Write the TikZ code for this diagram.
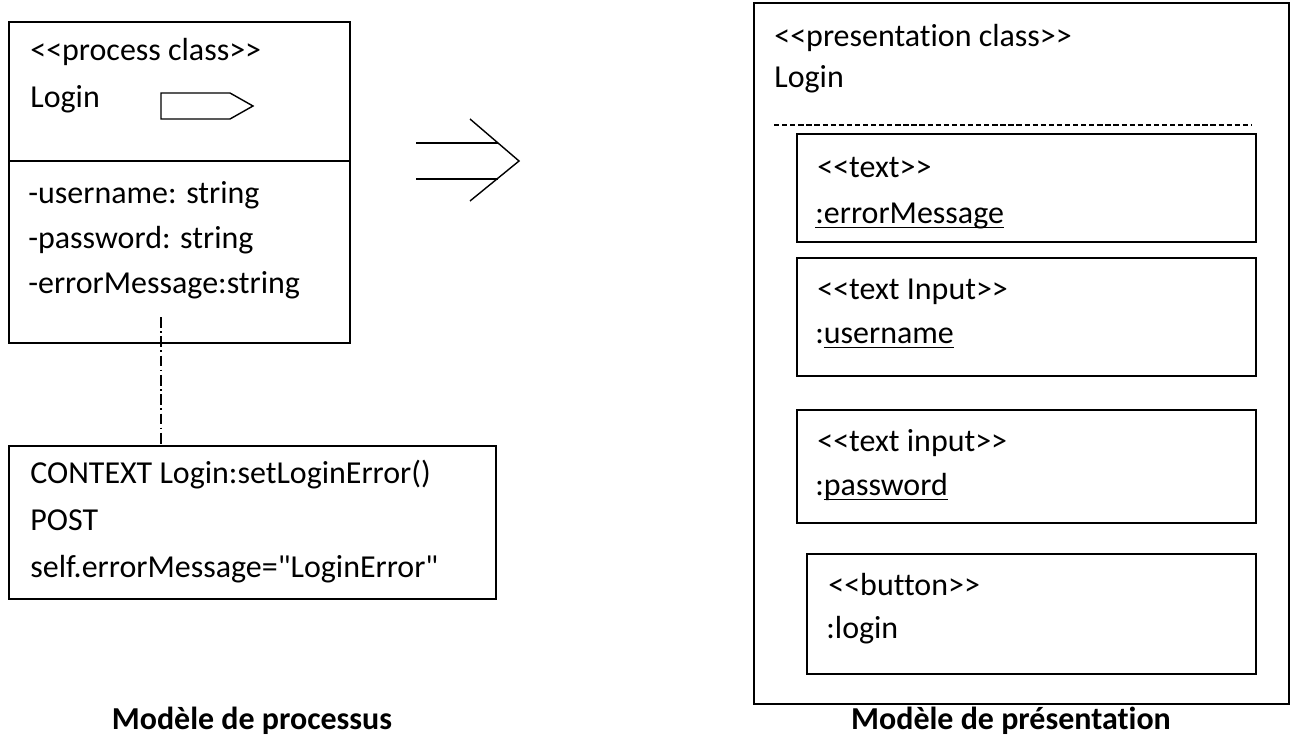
\documentclass[tikz,border=0pt]{standalone}
\usepackage{fontspec}
\setmainfont{Carlito}[Ligatures={NoCommon}]
\usetikzlibrary{positioning, calc}

\newcommand{\ulword}[1]{\setbox0\hbox{#1}\rlap{\rule[-3pt]{\wd0}{0.9pt}}\box0}

\begin{document}
\begin{tikzpicture}[x=0.02cm, y=-0.02cm,
    box/.style={draw, line width=1pt, inner sep=0pt, anchor=north west},
    label/.style={anchor=base west, inner sep=0pt,
                  font=\fontsize{18.2}{22}\selectfont},
    caption/.style={anchor=base, inner sep=0pt,
                    font=\fontsize{18.2}{22}\selectfont\bfseries},
    thin line/.style={line width=0.8pt}
  ]
  \useasboundingbox (0,0) rectangle (1290,740);

  % Process class
  \node[box, minimum width=6.82cm, minimum height=6.42cm] (cls) at (8,21) {};
  \coordinate (clssep) at (8,161);
  \draw[line width=1pt] (clssep) -- (clssep -| cls.east);
  \node[label] (clsstereo) at (30,61) {<{}<process class>{}>};
  \node[label] (clsname) at (30,108) {Login};
  \draw[thin line] (161,93) -- (230,93) -- (253,106) -- (230,119)
    -- (161,119) -- cycle;
  \node[label] (attuser) at (28,203) {-username: string};
  \node[label] (attpass) at (28,248) {-password: string};
  \node[label] (atterr) at (28,293) {-errorMessage:string};

  % Context note
  \node[box, minimum width=9.74cm, minimum height=3.06cm] (ctx) at (8,445) {};
  \node[label] (ctxline1) at (30,483) {CONTEXT Login:setLoginError()};
  \node[label] (ctxline2) at (30,530) {POST};
  \node[label] (ctxline3) at (30,577)
    {self.errorMessage=\textquotedbl LoginError\textquotedbl};
  \coordinate (tie) at (161,317);
  \draw[line width=0.8pt, dash pattern=on 6pt off 2pt on 1pt off 2pt]
    (tie) -- (tie |- ctx.north);

  % Mapping arrow
  \coordinate (arrtip) at (519,161);
  \draw[thin line] (416,143) -- (498,143);
  \draw[thin line] (416,179) -- (498,179);
  \draw[thin line] (470,119) -- (arrtip) -- (470,201);

  % Presentation class
  \node[box, minimum width=10.7cm, minimum height=14.02cm] (pres) at (753,2) {};
  \node[label] (presstereo) at (774,47) {<{}<presentation class>{}>};
  \node[label] (presname) at (774,88) {Login};
  \coordinate (pressepL) at (774,125);
  \coordinate (pressepR) at (1252,125);
  \draw[line width=0.8pt, dash pattern=on 3pt off 1.6pt] (pressepL) -- (pressepR);

  % Widgets
  \node[box, minimum width=9.18cm, minimum height=2.16cm] (errbox) at (796,133) {};
  \node[label] (errstereo) at (817,177) {<{}<text>{}>};
  \node[label] (errname) at (815,223) {\ulword{:errorMessage}};

  \node[box, minimum width=9.18cm, minimum height=2.36cm] (userbox) at (796,257) {};
  \node[label] (userstereo) at (817,299) {<{}<text Input>{}>};
  \node[label] (username) at (815,343) {:\ulword{username}};

  \node[box, minimum width=9.18cm, minimum height=2.26cm] (passbox) at (796,409) {};
  \node[label] (passstereo) at (817,451) {<{}<text input>{}>};
  \node[label] (passname) at (815,495) {:\ulword{password}};

  \node[box, minimum width=8.98cm, minimum height=2.40cm] (btnbox) at (806,553) {};
  \node[label] (btnstereo) at (828,595) {<{}<button>{}>};
  \node[label] (btnname) at (826,638) {:login};

  % Captions
  \node[caption] (capproc) at (252,729) {Modèle de processus};
  \node[caption] (cappres) at (1011,729) {Modèle de présentation};
\end{tikzpicture}
\end{document}
